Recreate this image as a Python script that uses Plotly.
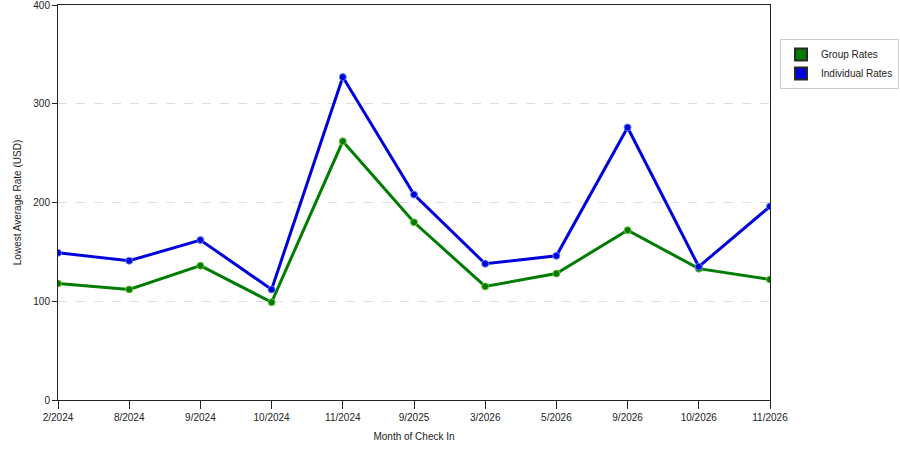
import plotly.graph_objects as go

months = ["2/2024", "8/2024", "9/2024", "10/2024", "11/2024", "9/2025",
          "3/2026", "5/2026", "9/2026", "10/2026", "11/2026"]
group_rates = [118, 112, 136, 99, 262, 180, 115, 128, 172, 133, 122]
individual_rates = [149, 141, 162, 112, 327, 208, 138, 146, 276, 135, 196]

GREEN = "rgb(0,125,0)"
BLUE = "rgb(0,0,220)"

fig = go.Figure()

# line traces (legend drawn separately with square swatches)
for name, vals, col, glow in [
    ("Group Rates", group_rates, GREEN, "rgba(120,200,60,0.9)"),
    ("Individual Rates", individual_rates, BLUE, "rgba(90,140,255,0.9)"),
]:
    fig.add_trace(go.Scatter(
        x=months, y=vals,
        mode="lines+markers",
        line=dict(color=col, width=3),
        marker=dict(size=7, color=col, line=dict(color=glow, width=1)),
        name=name,
        showlegend=False,
        hovertemplate="%{x}: %{y}<extra>" + name + "</extra>",
    ))

# legend entries with square markers
for name, col in [("Group Rates", GREEN), ("Individual Rates", BLUE)]:
    fig.add_trace(go.Scatter(
        x=[None], y=[None],
        mode="markers",
        marker=dict(symbol="square", size=12, color=col,
                    line=dict(color="rgb(40,40,40)", width=0.5)),
        name=name,
    ))

fig.update_layout(
    width=900, height=450,
    margin=dict(l=58, r=130, t=5, b=50),
    paper_bgcolor="white",
    plot_bgcolor="white",
    font=dict(family="Liberation Sans", size=10, color="#222"),
    legend=dict(
        xref="container", yref="container",
        x=780 / 900, y=1 - 39 / 450, xanchor="left", yanchor="top",
        bordercolor="#cccccc", borderwidth=1,
        font=dict(size=10),
        itemsizing="constant",
        itemwidth=30,
        tracegroupgap=2,
    ),
    xaxis=dict(
        type="category",
        range=[0, len(months) - 1],
        automargin=False,
        showgrid=False,
        showline=True, linecolor="#222", linewidth=1, mirror=True,
        ticks="outside", ticklen=8, tickcolor="#222",
        tickfont=dict(size=10),
        title=dict(text="Month of Check In", font=dict(size=10), standoff=10),
    ),
    yaxis=dict(
        range=[0, 400],
        tickvals=[0, 100, 200, 300, 400],
        automargin=False,
        ticklabeloverflow="allow",
        showgrid=True, gridcolor="#dddddd", griddash="dash", gridwidth=1,
        zeroline=False,
        showline=True, linecolor="#222", linewidth=1, mirror=True,
        ticks="outside", ticklen=5, tickcolor="#222",
        tickfont=dict(size=10),
        title=dict(text="Lowest Average Rate (USD)", font=dict(size=10), standoff=9),
    ),
)

# drop the browser's default 8px body margin so the figure sits at 0,0
fig.write_html("out.html", config={"displayModeBar": False},
               post_script="document.body.style.margin='0';")
